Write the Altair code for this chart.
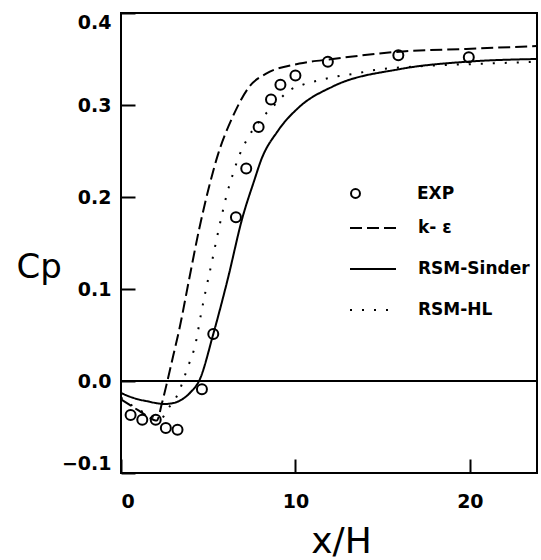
import altair as alt
import pandas as pd

# ---- data ----
exp_x = [0.55, 1.22, 1.99, 2.57, 3.24, 4.64, 5.29, 6.59, 7.18, 7.89, 8.6, 9.14, 10.0, 11.86, 15.9, 19.94]
exp_y = [-0.037, -0.042, -0.042, -0.051, -0.053, -0.009, 0.051, 0.178, 0.231, 0.276, 0.306, 0.322, 0.332, 0.347, 0.354, 0.352]

keps_x = [0, 0.5, 1.0, 1.5, 2.05, 2.35, 2.66, 3.0, 3.33, 3.9, 4.48, 5.06, 5.54, 6.4, 7.36, 8.32, 10.23, 12.14, 15.98, 19.8, 23.85]
keps_y = [-0.020, -0.026, -0.032, -0.038, -0.043, -0.024, 0.000, 0.028, 0.055, 0.110, 0.165, 0.212, 0.245, 0.287, 0.320, 0.334, 0.345, 0.350, 0.358, 0.361, 0.364]

sinder_x = [0, 0.5, 1.0, 1.5, 2.0, 2.5, 3.0, 3.5, 4.0, 4.5, 5.29, 6.11, 6.97, 7.64, 8.03, 9.0, 10.23, 12.13, 15.98, 19.8, 23.85]
sinder_y = [-0.013, -0.017, -0.020, -0.022, -0.024, -0.025, -0.024, -0.020, -0.012, 0.001, 0.051, 0.110, 0.178, 0.218, 0.240, 0.272, 0.298, 0.320, 0.339, 0.347, 0.350]

hl_x = [0, 0.5, 1.0, 1.5, 2.0, 2.3, 2.66, 3.24, 3.81, 4.29, 4.58, 4.83, 5.15, 5.48, 5.79, 6.11, 6.3, 6.78, 7.3, 8.0, 8.8, 9.66, 10.42, 11.38, 12.34, 13.39, 14.54, 17.0, 20.96, 23.85]
hl_y = [-0.018, -0.025, -0.031, -0.036, -0.040, -0.041, -0.031, -0.015, 0.014, 0.042, 0.072, 0.096, 0.124, 0.154, 0.181, 0.206, 0.218, 0.245, 0.265, 0.284, 0.300, 0.316, 0.322, 0.327, 0.331, 0.334, 0.338, 0.342, 0.345, 0.347]

zero_level = [0.0]

x_ticks = [0, 10, 20]
y_ticks = [-0.1, 0.0, 0.1, 0.2, 0.3, 0.4]

model_names = ["k- \u03b5", "RSM-Sinder", "RSM-HL"]
exp_name = "EXP"

# ---- tables ----
exp_df = pd.DataFrame({"x": exp_x, "y": exp_y, "series": exp_name})
lines_df = pd.concat([
    pd.DataFrame({"x": keps_x, "y": keps_y, "model": model_names[0]}),
    pd.DataFrame({"x": sinder_x, "y": sinder_y, "model": model_names[1]}),
    pd.DataFrame({"x": hl_x, "y": hl_y, "model": model_names[2]}),
], ignore_index=True)
zero_df = pd.DataFrame({"y": zero_level})

LABEL_FONT = "DejaVu Sans"

xscale = alt.Scale(domain=[0, 23.85], nice=False, zero=False)
yscale = alt.Scale(domain=[-0.1, 0.4], nice=False, zero=False)

x_axis = alt.Axis(
    values=x_ticks, title="x/H", format="d",
    offset=-14, tickSize=14, tickWidth=2, tickColor="black",
    domain=False, grid=False,
    labelPadding=19, labelFont=LABEL_FONT, labelFontSize=19, labelFontWeight="bold", labelColor="black",
    titleFont=LABEL_FONT, titleFontSize=36, titleFontWeight="normal", titleColor="black",
    titleX=220, titleY=93, titleBaseline="alphabetic", titleAlign="center",
)
y_axis = alt.Axis(
    values=y_ticks, title="Cp", format=".1f",
    offset=-14, tickSize=14, tickWidth=2, tickColor="black",
    domain=False, grid=False, labelFlush=True,
    labelPadding=10, labelFont=LABEL_FONT, labelFontSize=19, labelFontWeight="bold", labelColor="black",
    titleFont=LABEL_FONT, titleFontSize=34, titleFontWeight="normal", titleColor="black",
    titleAngle=0, titleX=-119, titleY=264, titleAlign="left", titleBaseline="alphabetic",
)

zero_rule = alt.Chart(zero_df).mark_rule(color="black", strokeWidth=2).encode(
    y=alt.Y("y:Q", scale=yscale, axis=y_axis)
)

lines = alt.Chart(lines_df).mark_line(color="black", strokeWidth=2, interpolate="monotone").encode(
    x=alt.X("x:Q", scale=xscale, axis=x_axis),
    y=alt.Y("y:Q", scale=yscale, axis=y_axis),
    strokeDash=alt.StrokeDash(
        "model:N",
        scale=alt.Scale(domain=model_names, range=[[12, 5], [1, 0], [2, 10]]),
        legend=alt.Legend(
            title=None, orient="none", legendX=228, legendY=205, padding=0,
            symbolType="stroke", symbolSize=2116, symbolStrokeWidth=2, symbolStrokeColor="black",
            clipHeight=20, rowPadding=21, labelOffset=21,
            labelFont=LABEL_FONT, labelFontSize=17, labelFontWeight="bold", labelColor="black",
        ),
    ),
    detail="model:N",
)

points = alt.Chart(exp_df).mark_point(filled=False, color="black", size=100, strokeWidth=2, opacity=1).encode(
    x=alt.X("x:Q", scale=xscale, axis=x_axis),
    y=alt.Y("y:Q", scale=yscale, axis=y_axis),
    shape=alt.Shape(
        "series:N",
        scale=alt.Scale(domain=[exp_name], range=["circle"]),
        legend=alt.Legend(
            title=None, orient="none", legendX=226, legendY=172, padding=0,
            symbolSize=80, symbolStrokeWidth=2, symbolStrokeColor="black",
            labelOffset=53,
            labelFont=LABEL_FONT, labelFontSize=17, labelFontWeight="bold", labelColor="black",
        ),
    ),
)

chart = alt.layer(zero_rule, lines, points).properties(
    width=416, height=460,
    autosize=alt.AutoSizeParams(type="none"),
    padding={"left": 121, "top": 13, "right": 4, "bottom": 87},
    background="white",
).configure_view(stroke="black", strokeWidth=2)

chart.save("out.html", embed_options={"renderer": "svg", "actions": False})
